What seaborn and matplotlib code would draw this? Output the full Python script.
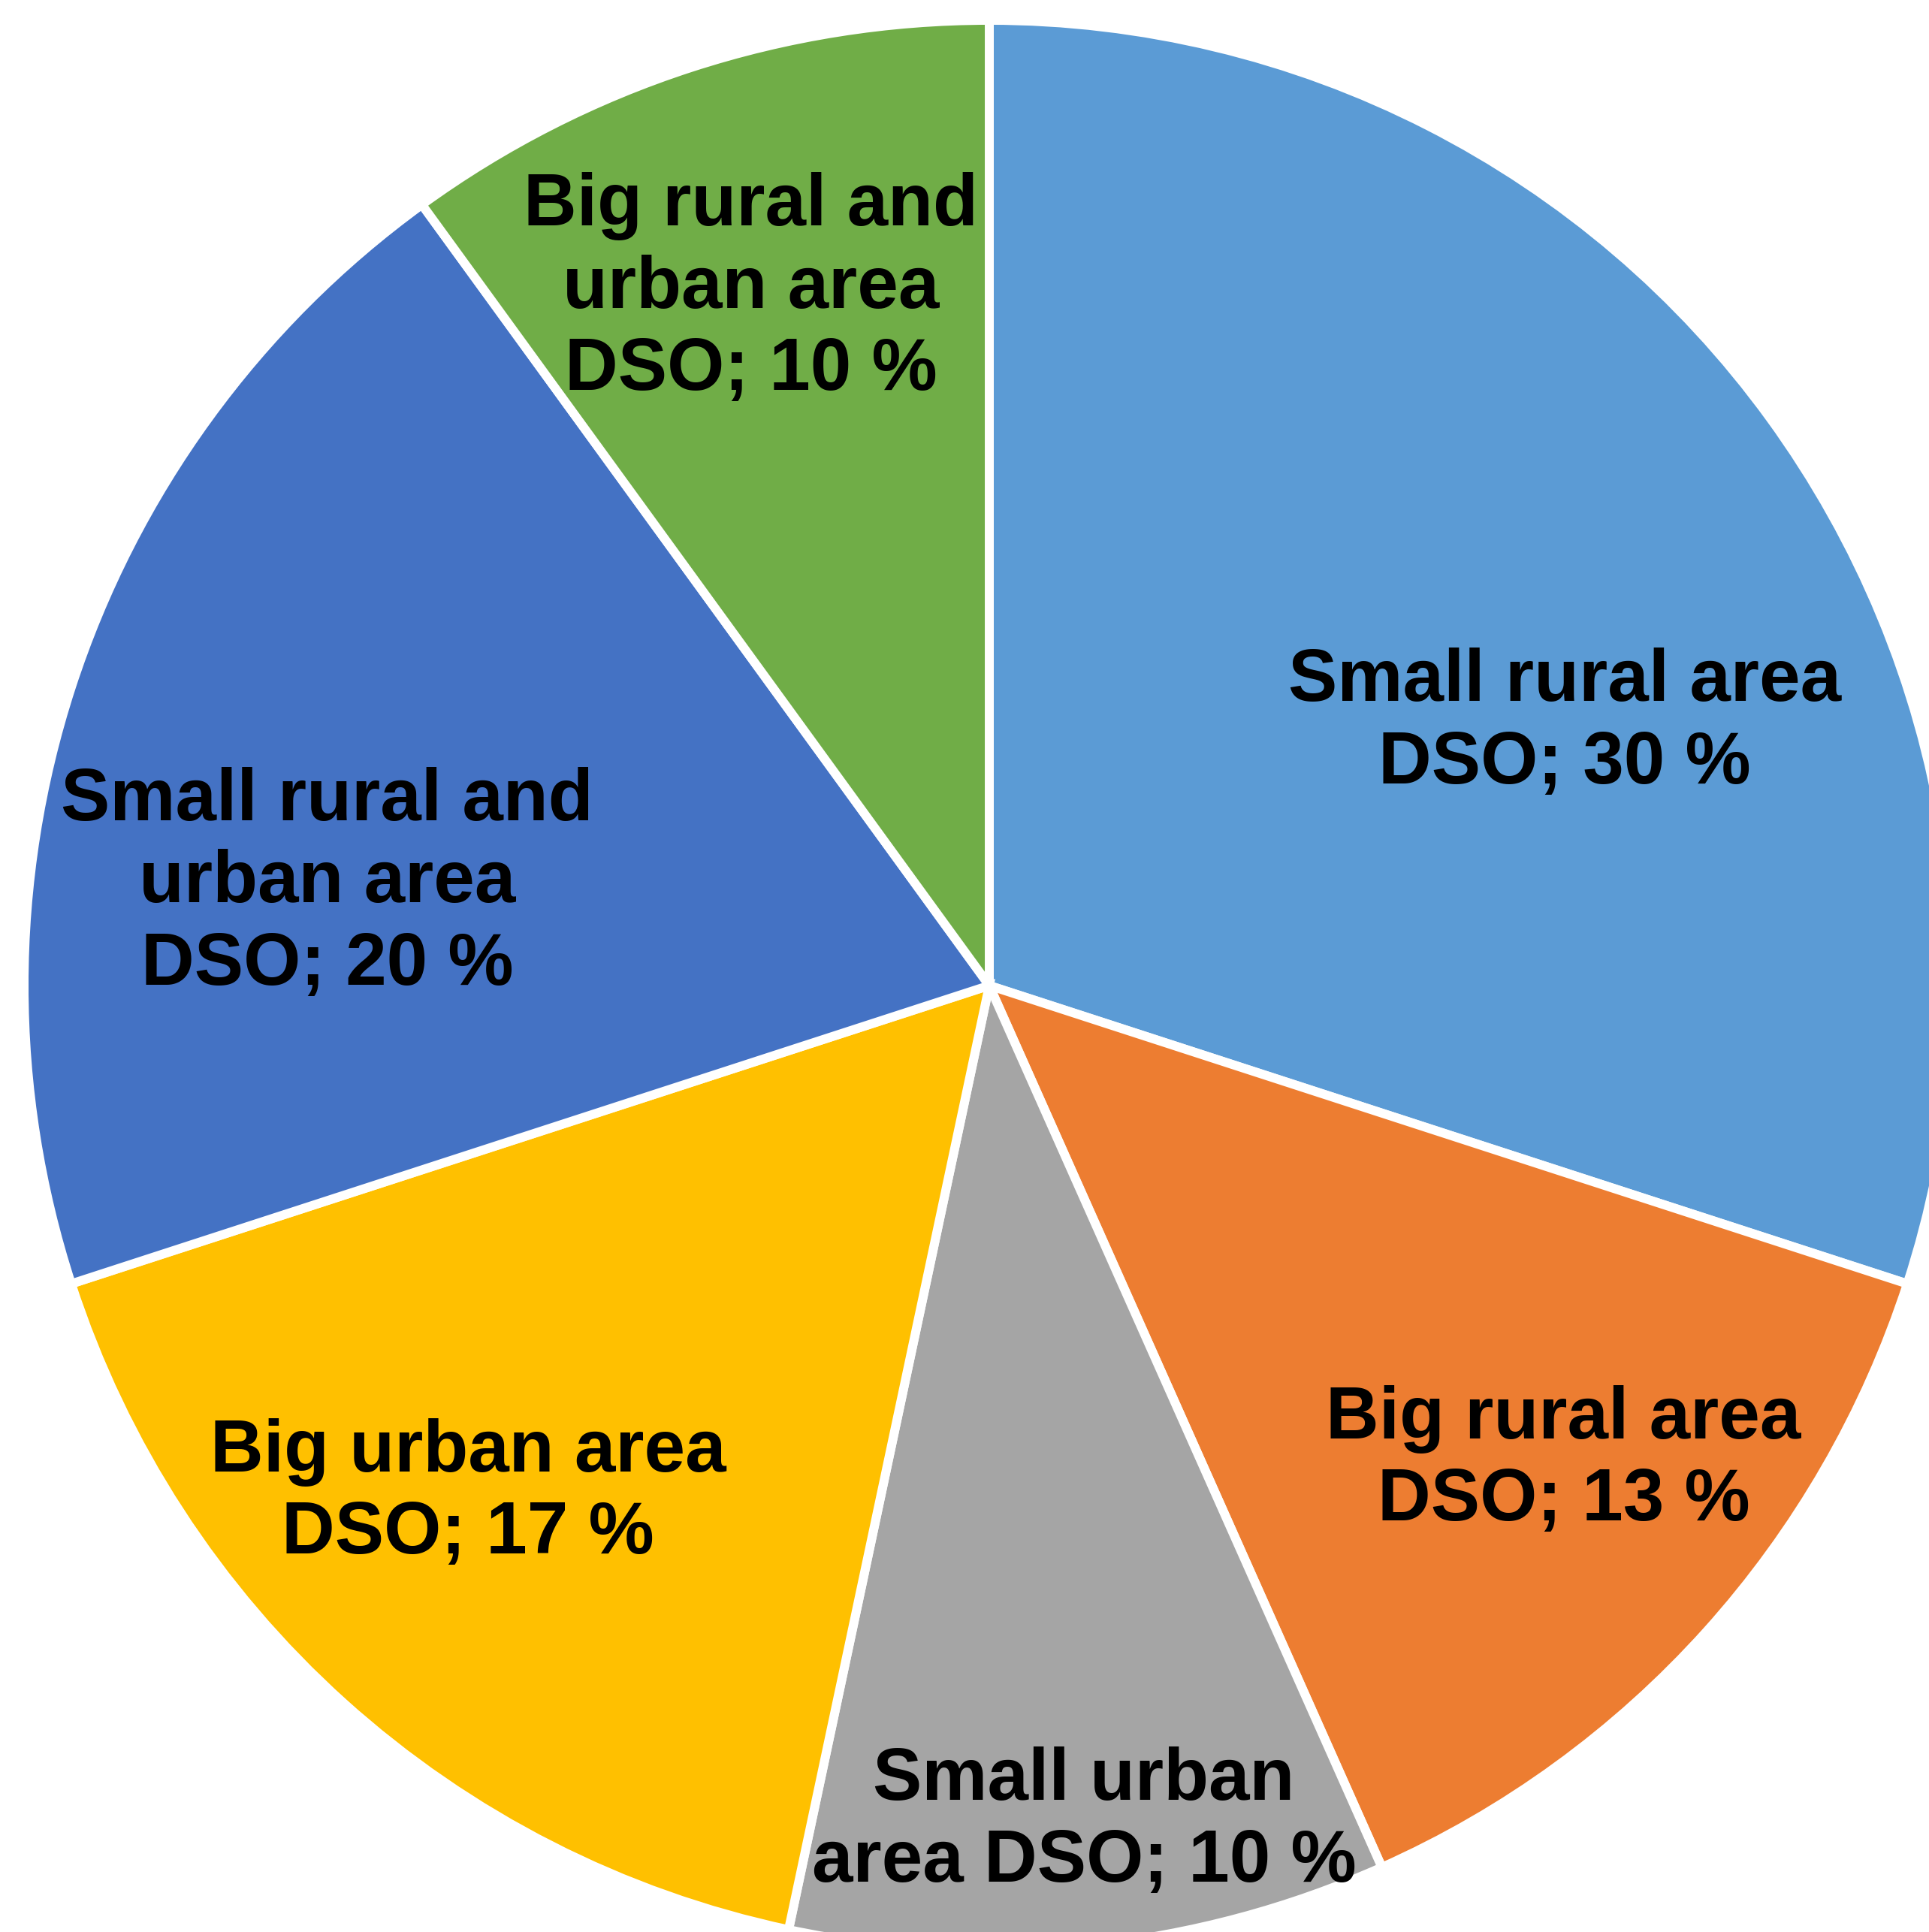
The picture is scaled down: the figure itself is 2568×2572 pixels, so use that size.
import matplotlib
matplotlib.use("Agg")
import matplotlib.pyplot as plt
import seaborn as sns

# Number of DSOs by area type (30 in total)
categories = [
    "Small rural area DSO",
    "Big rural area DSO",
    "Small urban area DSO",
    "Big urban area DSO",
    "Small rural and urban area DSO",
    "Big rural and urban area DSO",
]
counts = [9, 4, 3, 5, 6, 3]

# Line breaks used for each label
label_lines = [
    ["Small rural area", "DSO"],
    ["Big rural area", "DSO"],
    ["Small urban", "area DSO"],
    ["Big urban area", "DSO"],
    ["Small rural and", "urban area", "DSO"],
    ["Big rural and", "urban area", "DSO"],
]

colors = ["#5B9BD5", "#ED7D31", "#A5A5A5", "#FFC000", "#4472C4", "#70AD47"]

# Label centres, in units of the pie radius
label_xy = [
    (0.596, 0.272),
    (0.595, -0.492),
    (0.098, -0.866),
    (-0.540, -0.526),
    (-0.686, 0.106),
    (-0.247, 0.722),
]

sns.set_theme(style="white")
plt.rcParams["font.family"] = ["Liberation Sans", "DejaVu Sans"]

W, H, DPI = 2568, 2572, 100
fig = plt.figure(figsize=(W / DPI, H / DPI), dpi=DPI)
ax = fig.add_axes([0, 0, 1, 1])

wedges, _ = ax.pie(
    counts,
    colors=colors,
    startangle=90,
    counterclock=False,
    radius=1.0,
    wedgeprops=dict(edgecolor="white", linewidth=8.6, joinstyle="miter"),
)

total = sum(counts)
for lines, c, (x, y) in zip(label_lines, counts, label_xy):
    pct = round(100 * c / total)
    text = "\n".join(lines[:-1] + [f"{lines[-1]}; {pct} %"])
    ax.text(x, y, text, ha="center", va="center", fontsize=70.6,
            fontweight="bold", color="black", linespacing=1.26)

# Pie centre sits at pixel (1317, 1312) with radius 1285 px
cx, cy, R = 1317, 1312, 1285
ax.set_aspect("auto")
ax.set_xlim(-cx / R, (W - cx) / R)
ax.set_ylim(-(H - cy) / R, cy / R)
ax.axis("off")

fig.savefig("out.png", dpi=DPI, facecolor="white")
